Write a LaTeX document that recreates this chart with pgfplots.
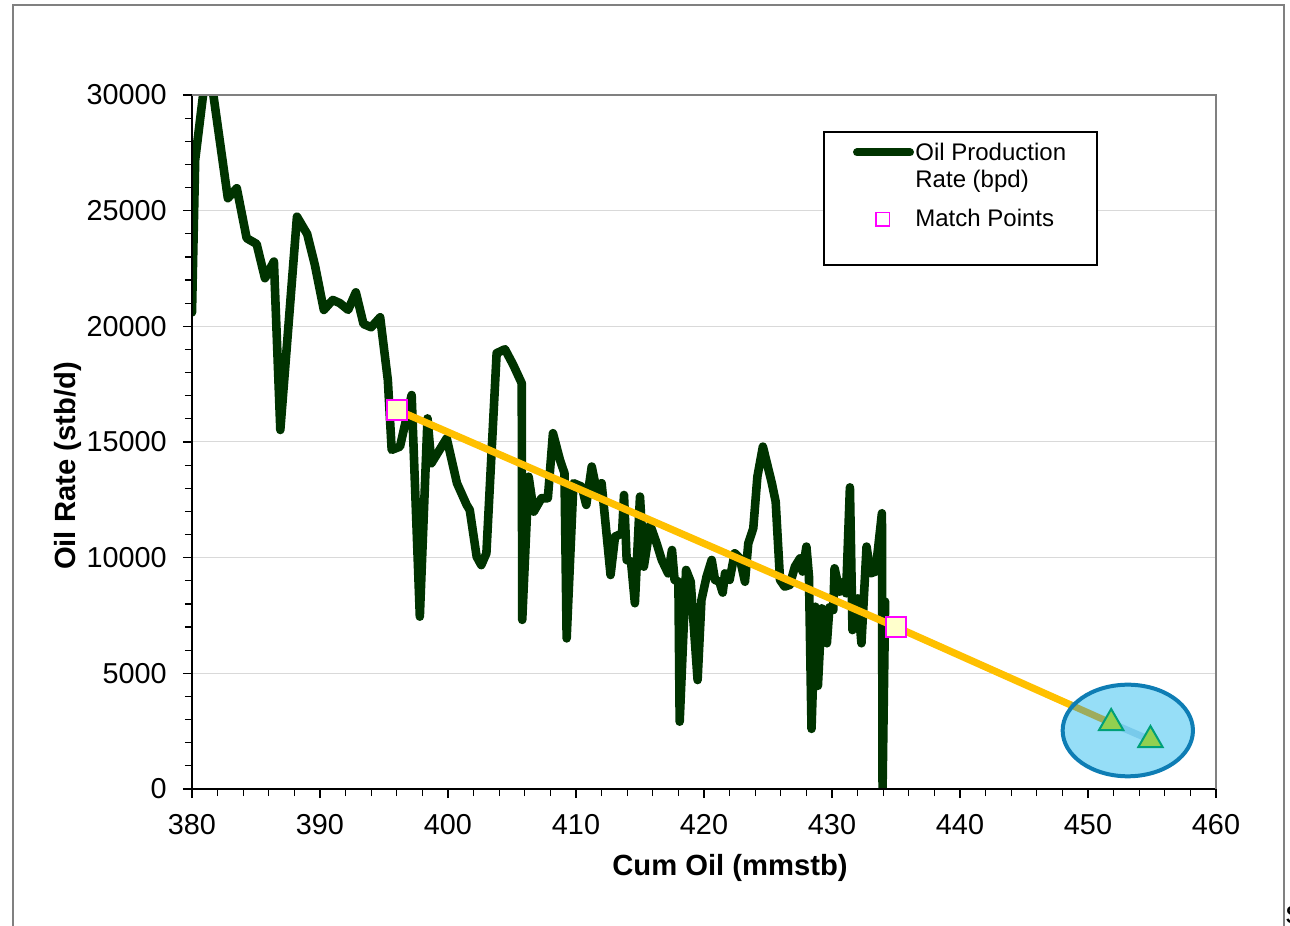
\documentclass[border=0pt]{standalone}
\usepackage{fontspec}
\setmainfont{Liberation Sans}
\usepackage{pgfplots}
\pgfplotsset{compat=1.18}
\definecolor{oilgreen}{RGB}{0,51,0}
\definecolor{matchyellow}{RGB}{255,192,0}
\definecolor{sqfill}{RGB}{255,255,204}
\definecolor{sqedge}{RGB}{255,0,255}
\definecolor{ellfill}{RGB}{150,222,247}
\definecolor{elledge}{RGB}{14,125,180}
\definecolor{trifill}{RGB}{146,208,80}
\definecolor{triedge}{RGB}{0,160,120}
\definecolor{olivetwo}{RGB}{158,172,92}
\definecolor{segblue}{RGB}{120,202,235}
\definecolor{gridgray}{RGB}{217,217,217}
\definecolor{framegray}{RGB}{128,128,128}
\begin{document}
\begin{tikzpicture}
\useasboundingbox (-96pt,-68.5pt) rectangle (549pt,394.5pt);
\draw[framegray, line width=1pt] (-89.5pt,-75pt) -- (-89.5pt,392pt) -- (546pt,392pt) -- (546pt,-75pt);
\begin{axis}[
  at={(0pt,0pt)}, anchor=south west,
  scale only axis, width=512pt, height=347pt,
  xmin=380, xmax=460, ymin=0, ymax=30000,
  xtick={380,390,...,460}, ytick={0,5000,...,30000},
  minor x tick num=4, minor y tick num=4,
  tick pos=left, tick align=outside,
  major tick length=4.5pt, minor tick length=3.5pt,
  every tick/.style={black, line width=0.6pt},
  ymajorgrids, grid style={gridgray, line width=0.5pt},
  axis line style={draw=none},
  scaled y ticks=false,
  /pgf/number format/assume math mode=true,
  yticklabel style={/pgf/number format/fixed, /pgf/number format/1000 sep={}, anchor=east, inner sep=0pt, xshift=-8pt},
  xticklabel style={anchor=north, inner sep=0pt, yshift=-8pt},
  tick label style={font=\fontsize{14.4}{17}\selectfont},
  xlabel={Cum Oil (mmstb)}, ylabel={Oil Rate (stb/d)},
  label style={font=\fontsize{14.6}{17}\selectfont\bfseries},
  xlabel style={at={(axis description cs:0.5254,-0.1135)}, anchor=center},
  ylabel style={at={(axis description cs:-0.1211,0.4654)}, anchor=center},
]
\addplot[oilgreen, line width=4.3pt, line join=round, line cap=round] coordinates {
(380.0,20600) (380.25,27200) (381.24,31700) (382.8,25540) (383.5,25970)
(384.27,23810) (385.05,23560) (385.7,22080) (386.4,22800) (386.9,15520)
(388.2,24740) (389.0,23990) (389.6,22650) (390.3,20710) (391.0,21140)
(391.56,21000) (392.2,20710) (392.8,21470) (393.4,20100) (394.0,19960)
(394.7,20390) (395.3,17680) (395.6,14660) (396.25,14800) (397.16,17030)
(397.8,7450) (398.4,16020) (398.7,14080) (399.9,15160) (400.7,13220)
(401.46,12280) (401.7,12060) (402.24,10040) (402.6,9680) (403.0,10190)
(403.8,18840) (404.45,19010) (405.1,18330) (405.76,17540) (405.8,7310)
(406.3,13500) (406.7,11990) (407.3,12570) (407.8,12570) (408.2,15380)
(408.75,14220) (409.1,13650) (409.27,6510) (409.8,13220) (410.45,13070)
(410.8,12280) (411.23,13940) (411.6,12930) (412.0,13220) (412.7,9250)
(413.05,10910) (413.6,11050) (413.75,12710) (413.96,9900) (414.3,9830)
(414.6,8030) (415.0,12640) (415.3,9610) (415.8,11410) (416.3,10620)
(416.7,9900) (417.2,9320) (417.5,10330) (417.7,9040) (418.0,8960)
(418.1,2910) (418.6,9470) (418.96,8960) (419.5,4710) (419.8,8170)
(420.2,9180) (420.6,9900) (420.86,9040) (421.2,8960) (421.46,8490)
(421.64,9320) (422.0,9040) (422.4,10190) (422.8,9970) (423.2,8960)
(423.46,10620) (423.85,11270) (424.17,13500) (424.6,14800) (425.3,13220)
(425.6,12420) (425.94,9040) (426.3,8750) (426.7,8820) (427.1,9610)
(427.5,9970) (427.7,9400) (428.0,10480) (428.2,9200) (428.4,2600)
(428.7,7880) (428.9,4460) (429.2,7810) (429.6,6300) (429.8,7850)
(430.1,7740) (430.2,9540) (430.6,8530) (430.94,8960) (431.1,8460)
(431.4,13040) (431.6,6870) (432.0,8240) (432.3,6300) (432.7,10480)
(433.0,9320) (433.4,9400) (433.9,11920) (433.95,0) (434.15,8100)
};
\addplot[matchyellow, line width=3.6pt] coordinates {(396.02,16384) (435.0,7003) (451.81,2853)};
\fill[ellfill] (axis cs:453.11,2529) ellipse [x radius=5.09, y radius=1980];
\addplot[olivetwo, line width=3.4pt] coordinates {(448.62,3641) (451.81,2853)};
\addplot[segblue, line width=3.4pt] coordinates {(451.81,2853) (454.88,2118)};
\draw[elledge, line width=2pt] (axis cs:453.11,2529) ellipse [x radius=5.09, y radius=1980];
\addplot[only marks, mark=square*, mark size=5pt, mark options={draw=sqedge, fill=sqfill, line width=0.9pt}] coordinates {(396.02,16384) (435.0,7003)};
\addplot[only marks, mark=triangle*, mark size=7pt, mark options={draw=triedge, fill=trifill, line width=1pt}] coordinates {(451.81,2853) (454.88,2118)};
\end{axis}
% axis frame lines
\draw[black, line width=0.75pt] (0pt,347pt) -- (0pt,0pt) -- (512pt,0pt);
\draw[framegray, line width=1.2pt] (0pt,347pt) -- (512pt,347pt) -- (512pt,0pt);
% legend
\draw[black, line width=0.6pt, fill=white] (316pt,262pt) rectangle (452.5pt,328.5pt);
\draw[oilgreen, line width=4pt, line cap=round] (332.5pt,318.3pt) -- (359pt,318.3pt);
\node[anchor=base west, inner sep=0pt, font=\fontsize{12}{14}\selectfont] at (361.5pt,314pt) {Oil Production};
\node[anchor=base west, inner sep=0pt, font=\fontsize{12}{14}\selectfont] at (361.5pt,300.7pt) {Rate (bpd)};
\node[anchor=base west, inner sep=0pt, font=\fontsize{12}{14}\selectfont] at (361.5pt,281.2pt) {Match Points};
\draw[sqedge, fill=white, line width=0.8pt] (345.3pt,284.8pt) +(-3.4pt,-3.4pt) rectangle +(3.4pt,3.4pt);
\node[anchor=west, inner sep=0pt, font=\fontsize{16}{18}\selectfont] at (546.6pt,-63pt) {s};
\end{tikzpicture}
\end{document}
